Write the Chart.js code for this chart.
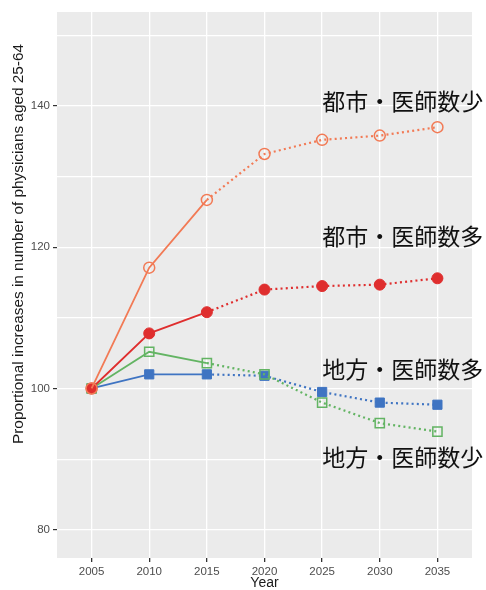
<!DOCTYPE html>
<html lang="ja">
<head>
  <meta charset="UTF-8">
  <title>Physicians aged 25-64</title>
  <script src="https://cdn.jsdelivr.net/npm/chart.js"></script>
  <style>
    body { margin: 0; background: #fff; }
    #wrap { width: 486px; height: 590px; }
  </style>
</head>
<body>
  <div id="wrap"><canvas id="chart" width="486" height="590"></canvas></div>

  <script>
    const years = [2005, 2010, 2015, 2020, 2025, 2030, 2035];
    const yTicks = [80, 90, 100, 110, 120, 130, 140, 150];

    const cityFew = [100, 117.1, 126.7, 133.2, 135.2, 135.8, 137.0];
    const cityMany = [100, 107.8, 110.8, 114.0, 114.5, 114.7, 115.6];
    const ruralFew = [100, 105.2, 103.6, 102.0, 98.0, 95.1, 93.9];
    const ruralMany = [100, 102.0, 102.0, 101.8, 99.5, 98.0, 97.7];

    const seriesNames = ['都市・医師数少', '都市・医師数多', '地方・医師数多', '地方・医師数少'];
    const yTitle = 'Proportional increases in number of physicians aged 25-64';

    // solid up to 2015, dotted projection afterwards
    const dotted = ctx => ctx.p0DataIndex >= 2 ? [2, 3.2] : undefined;
    const segWidth = ctx => ctx.p0DataIndex >= 2 ? 2.2 : 1.8;

    function makeSet(label, values, color, style, open) {
      return {
        label: label,
        data: values.map((v, i) => ({ x: years[i], y: v })),
        borderColor: color,
        borderWidth: 1.8,
        pointStyle: style,
        pointRadius: style === 'rect' ? 6.5 : 5.5,
        pointBorderWidth: open ? 1.5 : 1,
        pointBorderColor: color,
        pointBackgroundColor: open ? 'rgba(0,0,0,0)' : color,
        segment: { borderDash: dotted, borderWidth: segWidth },
        tension: 0
      };
    }

    const panelBg = {
      id: 'panelBg',
      beforeDraw(chart) {
        const a = chart.chartArea;
        chart.ctx.save();
        chart.ctx.fillStyle = '#EBEBEB';
        chart.ctx.fillRect(a.left, a.top, a.right - a.left, a.bottom - a.top);
        chart.ctx.restore();
      }
    };

    // series names written next to the lines, anchored in data space
    const seriesLabels = [
      { text: seriesNames[0], x: 2025, y: 140.7 },
      { text: seriesNames[1], x: 2025, y: 121.6 },
      { text: seriesNames[2], x: 2025, y: 102.7 },
      { text: seriesNames[3], x: 2025, y: 90.2 }
    ];
    const textLabels = {
      id: 'textLabels',
      afterDatasetsDraw(chart) {
        const ctx = chart.ctx;
        const sx = chart.scales.x, sy = chart.scales.y;
        ctx.save();
        ctx.font = '23px "Noto Sans CJK JP"';
        ctx.fillStyle = '#111';
        ctx.textAlign = 'left';
        ctx.textBaseline = 'middle';
        seriesLabels.forEach(l => {
          ctx.fillText(l.text, sx.getPixelForValue(l.x), sy.getPixelForValue(l.y));
        });
        ctx.restore();
      }
    };

    // y title drawn by hand so its length matches the (stretched) original
    const yTitlePlugin = {
      id: 'yTitle',
      afterDraw(chart) {
        const ctx = chart.ctx;
        ctx.save();
        ctx.translate(19, 244);
        ctx.rotate(-Math.PI / 2);
        ctx.font = '14px "Liberation Sans", Arial, sans-serif';
        const w = ctx.measureText(yTitle).width;
        ctx.scale(400 / w, 1);
        ctx.fillStyle = '#1A1A1A';
        ctx.textAlign = 'center';
        ctx.textBaseline = 'middle';
        ctx.fillText(yTitle, 0, 0);
        ctx.restore();
      }
    };

    const tickFont = { family: '"Liberation Sans", Arial, sans-serif', size: 11.5 };
    const titleFont = { family: '"Liberation Sans", Arial, sans-serif', size: 14 };

    new Chart(document.getElementById('chart'), {
      type: 'line',
      data: {
        datasets: [
          makeSet(seriesNames[0], cityFew, '#F27A55', 'circle', true),
          makeSet(seriesNames[1], cityMany, '#DF2E2E', 'circle', false),
          makeSet(seriesNames[3], ruralFew, '#63B463', 'rect', true),
          makeSet(seriesNames[2], ruralMany, '#3F74C2', 'rect', false)
        ]
      },
      plugins: [panelBg, textLabels, yTitlePlugin],
      options: {
        responsive: false,
        animation: false,
        layout: { padding: { left: 0, top: 12, right: 14, bottom: 0 } },
        plugins: {
          legend: { display: false },
          tooltip: { enabled: false }
        },
        scales: {
          x: {
            type: 'linear',
            min: 2002,
            max: 2038,
            afterBuildTicks: s => { s.ticks = years.map(v => ({ value: v })); },
            afterFit: s => { s.height = 32; },
            ticks: {
              autoSkip: false,
              maxRotation: 0,
              color: '#4D4D4D',
              font: tickFont,
              padding: 3,
              callback: v => String(v)
            },
            grid: { color: '#FFFFFF', lineWidth: 1.3, tickLength: 4, tickColor: '#333333' },
            border: { display: false },
            title: { display: true, text: 'Year', color: '#1A1A1A', font: titleFont, padding: { top: 0, bottom: -2 } }
          },
          y: {
            min: 76,
            max: 153.3,
            afterBuildTicks: s => { s.ticks = yTicks.map(v => ({ value: v })); },
            afterFit: s => { s.width = 57; },
            ticks: {
              autoSkip: false,
              color: '#4D4D4D',
              font: tickFont,
              padding: 3,
              callback: v => v % 20 === 0 ? String(v) : ''
            },
            grid: {
              color: '#FFFFFF',
              lineWidth: 1.2,
              tickLength: 4,
              tickColor: c => c.tick && c.tick.value % 20 === 0 ? '#333333' : 'rgba(0,0,0,0)'
            },
            border: { display: false },
            title: { display: false }
          }
        }
      }
    });
  </script>
</body>
</html>
